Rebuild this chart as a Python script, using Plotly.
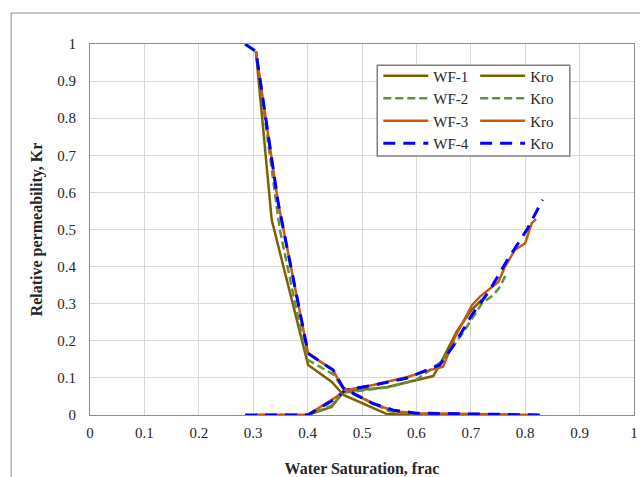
import plotly.graph_objects as go

# ---- data ----
sw_wf1_krw = [0.305, 0.40, 0.444, 0.466, 0.545, 0.631, 0.646, 0.674, 0.701, 0.72]
kr_wf1_krw = [0, 0, 0.022, 0.063, 0.075, 0.105, 0.144, 0.225, 0.283, 0.31]
sw_wf1_kro = [0.305, 0.334, 0.401, 0.444, 0.466, 0.545, 0.60, 0.72]
kr_wf1_kro = [0.98, 0.526, 0.135, 0.09, 0.054, 0.003, 0, 0]

sw_wf2_krw = [0.305, 0.40, 0.444, 0.466, 0.55, 0.60, 0.646, 0.683, 0.72, 0.741, 0.754, 0.765]
kr_wf2_krw = [0, 0, 0.025, 0.06, 0.075, 0.095, 0.144, 0.216, 0.30, 0.323, 0.346, 0.38]
sw_wf2_kro = [0.305, 0.349, 0.386, 0.401, 0.447, 0.466, 0.55, 0.60, 0.765]
kr_wf2_kro = [0.98, 0.499, 0.238, 0.148, 0.11, 0.07, 0.01, 0.002, 0]

sw_wf3_krw = [0.305, 0.40, 0.453, 0.469, 0.521, 0.585, 0.625, 0.649, 0.671, 0.702, 0.717,
              0.751, 0.763, 0.781, 0.80, 0.812, 0.82]
kr_wf3_krw = [0, 0, 0.049, 0.067, 0.081, 0.103, 0.121, 0.13, 0.21, 0.296, 0.319,
              0.359, 0.40, 0.445, 0.463, 0.517, 0.528]
sw_wf3_kro = [0.305, 0.346, 0.401, 0.447, 0.463, 0.52, 0.56, 0.60, 0.82]
kr_wf3_kro = [0.98, 0.571, 0.166, 0.121, 0.076, 0.031, 0.01, 0.005, 0]

sw_wf4_krw = [0.285, 0.40, 0.453, 0.469, 0.52, 0.582, 0.643, 0.671, 0.702, 0.735, 0.769, 0.803, 0.832]
kr_wf4_krw = [0, 0, 0.045, 0.067, 0.08, 0.099, 0.135, 0.193, 0.27, 0.337, 0.422, 0.499, 0.58]
sw_wf4_kro = [0.285, 0.305, 0.346, 0.401, 0.447, 0.466, 0.52, 0.558, 0.60, 0.832]
kr_wf4_kro = [1.0, 0.98, 0.571, 0.166, 0.121, 0.072, 0.031, 0.013, 0.005, 0]

series_names = ["WF-1", "WF-2", "WF-3", "WF-4"]
kro_name = "Kro"
x_title = "Water Saturation, frac"
y_title = "Relative permeability, Kr"
tick_vals = [0, 0.1, 0.2, 0.3, 0.4, 0.5, 0.6, 0.7, 0.8, 0.9, 1]
tick_text = ["0", "0.1", "0.2", "0.3", "0.4", "0.5", "0.6", "0.7", "0.8", "0.9", "1"]

krw = [(sw_wf1_krw, kr_wf1_krw), (sw_wf2_krw, kr_wf2_krw), (sw_wf3_krw, kr_wf3_krw), (sw_wf4_krw, kr_wf4_krw)]
kro = [(sw_wf1_kro, kr_wf1_kro), (sw_wf2_kro, kr_wf2_kro), (sw_wf3_kro, kr_wf3_kro), (sw_wf4_kro, kr_wf4_kro)]

styles = [
    dict(color="#7f6000", width=2.5, dash="solid"),
    dict(color="#5f9140", width=2.5, dash="8px,4px"),
    dict(color="#c55a11", width=2.5, dash="solid"),
    dict(color="#0000ff", width=3, dash="12px,8px"),
]

FONT = "Liberation Serif"
TXT = "#262626"

fig = go.Figure()
for i in range(4):
    fig.add_trace(go.Scatter(x=krw[i][0], y=krw[i][1], mode="lines", name=series_names[i],
                             line=styles[i], legend="legend"))
for i in range(4):
    fig.add_trace(go.Scatter(x=kro[i][0], y=kro[i][1], mode="lines", name=kro_name,
                             line=styles[i], legend="legend2"))

axis_common = dict(
    range=[0, 1], tickvals=tick_vals, ticktext=tick_text,
    showgrid=True, gridcolor="#d9d9d9", gridwidth=1,
    showline=True, linecolor="#8c8c8c", linewidth=1, mirror=True,
    zeroline=False, ticks="", tickfont=dict(family=FONT, size=15, color=TXT),
    automargin=False,
)

legend_common = dict(xanchor="left", yanchor="top", bgcolor="rgba(0,0,0,0)",
                     font=dict(family=FONT, size=15, color=TXT), tracegroupgap=0, itemwidth=45)

fig.update_layout(
    width=640, height=477,
    margin=dict(l=90, r=6, t=44, b=62),
    paper_bgcolor="white", plot_bgcolor="white",
    font=dict(family=FONT, size=15, color=TXT),
    xaxis=dict(**axis_common, ticklabelstandoff=4,
               title=dict(text="<b>" + x_title + "</b>", font=dict(family=FONT, size=16, color=TXT), standoff=22)),
    yaxis=dict(**axis_common, ticklabelstandoff=10,
               title=dict(text="<b>" + y_title + "</b>", font=dict(family=FONT, size=16, color=TXT), standoff=10)),
    legend=dict(x=0.53, y=0.958, **legend_common),
    legend2=dict(x=0.708, y=0.958, **legend_common),
    shapes=[
        dict(type="rect", xref="paper", yref="paper", x0=-0.145, x1=1.2, y0=-0.4, y1=1.0836,
             line=dict(color="#8c8c8c", width=1), fillcolor="rgba(0,0,0,0)", layer="below"),
        dict(type="rect", xref="paper", yref="paper", x0=0.528, x1=0.882, y0=0.698, y1=0.943,
             line=dict(color="#7f7f7f", width=1.5), fillcolor="white", layer="above"),
    ],
)

fig.write_html("out.html", config={"displayModeBar": False},
               post_script="document.body.style.margin='0';document.body.style.overflow='hidden';")
